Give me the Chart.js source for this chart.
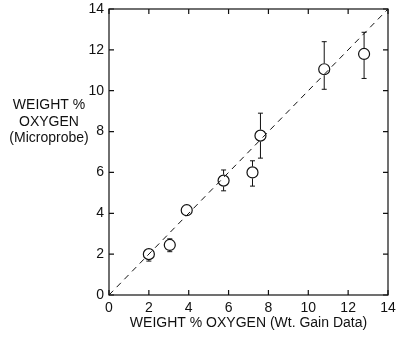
<!DOCTYPE html>
<html>
<head>
<meta charset="utf-8">
<script src="https://cdn.jsdelivr.net/npm/chart.js@4.4.1/dist/chart.umd.min.js"></script>
<style>
  html, body { margin: 0; padding: 0; background: #fff; }
  #wrap { width: 398px; height: 344px; }
</style>
</head>
<body>
<div id="wrap"><canvas id="chart" width="398" height="344"></canvas></div>
<script>
// measured data: wt% oxygen, gain data vs microprobe
const gainX = [2.0, 3.05, 3.9, 5.75, 7.2, 7.6, 10.8, 12.8];
const probeY = [2.0, 2.45, 4.15, 5.6, 6.0, 7.8, 11.05, 11.8];
const errHigh = [2.28, 2.75, 4.35, 6.12, 6.57, 8.9, 12.4, 12.86];
const errLow = [1.66, 2.12, 3.95, 5.1, 5.33, 6.7, 10.07, 10.6];
const tickValues = [0, 2, 4, 6, 8, 10, 12, 14];
const identityLine = [0, 14];

const FONT = "'Liberation Sans Narrow', 'Liberation Sans', sans-serif";

// inward ticks on all four sides, frame, error bars, and y title lines
const decorations = {
  id: 'decorations',
  afterDatasetsDraw(chart) {
    const { ctx, chartArea: a, scales: { x, y } } = chart;
    ctx.save();
    ctx.strokeStyle = '#111';
    ctx.lineWidth = 1.2;
    ctx.strokeRect(a.left, a.top, a.right - a.left, a.bottom - a.top);

    const len = 5;
    ctx.beginPath();
    tickValues.forEach(v => {
      const px = x.getPixelForValue(v);
      const py = y.getPixelForValue(v);
      ctx.moveTo(px, a.bottom); ctx.lineTo(px, a.bottom - len);
      ctx.moveTo(px, a.top); ctx.lineTo(px, a.top + len);
      ctx.moveTo(a.left, py); ctx.lineTo(a.left + len, py);
      ctx.moveTo(a.right, py); ctx.lineTo(a.right - len, py);
    });
    ctx.stroke();

    // error bars (drawn around the circle, not through it)
    ctx.lineWidth = 1;
    gainX.forEach((gx, i) => {
      const px = x.getPixelForValue(gx);
      const pc = y.getPixelForValue(probeY[i]);
      const ph = y.getPixelForValue(errHigh[i]);
      const pl = y.getPixelForValue(errLow[i]);
      const r = 6;
      ctx.beginPath();
      if (pc - ph > r) { ctx.moveTo(px, pc - r); ctx.lineTo(px, ph); ctx.moveTo(px - 2.5, ph); ctx.lineTo(px + 2.5, ph); }
      if (pl - pc > r) { ctx.moveTo(px, pc + r); ctx.lineTo(px, pl); ctx.moveTo(px - 2.5, pl); ctx.lineTo(px + 2.5, pl); }
      ctx.stroke();
    });

    ctx.fillStyle = '#111';
    ctx.font = '14px ' + FONT;
    ctx.textAlign = 'center';
    ctx.textBaseline = 'middle';
    ctx.fillText('WEIGHT %', 49, 105);
    ctx.fillText('OXYGEN', 49, 122);
    ctx.fillText('(Microprobe)', 49, 138);
    ctx.restore();
  }
};

new Chart(document.getElementById('chart'), {
  type: 'scatter',
  data: {
    datasets: [
      {
        type: 'line',
        data: identityLine.map(v => ({ x: v, y: v })),
        borderColor: '#111',
        borderWidth: 1,
        borderDash: [6, 5],
        pointRadius: 0,
        fill: false
      },
      {
        data: gainX.map((v, i) => ({ x: v, y: probeY[i] })),
        pointRadius: 5.5,
        pointBackgroundColor: '#fff',
        pointBorderColor: '#111',
        pointBorderWidth: 1.2
      }
    ]
  },
  options: {
    responsive: false,
    animation: false,
    layout: { padding: { top: 9, right: 10, left: 0, bottom: 12 } },
    plugins: { legend: { display: false }, tooltip: { enabled: false } },
    scales: {
      x: {
        type: 'linear',
        min: 0, max: 14,
        afterBuildTicks: s => { s.ticks = tickValues.map(v => ({ value: v })); },
        grid: { display: false, drawTicks: false },
        border: { display: false },
        ticks: { color: '#111', font: { family: FONT, size: 14 }, padding: 5, maxRotation: 0 },
        title: {
          display: true,
          text: 'WEIGHT % OXYGEN (Wt. Gain Data)',
          color: '#111',
          font: { family: FONT, size: 14 },
          padding: { top: 2, bottom: 0 }
        },
        afterFit: s => { s.height = 37; s.paddingRight = 0; }
      },
      y: {
        type: 'linear',
        min: 0, max: 14,
        afterBuildTicks: s => { s.ticks = tickValues.map(v => ({ value: v })); },
        grid: { display: false, drawTicks: false },
        border: { display: false },
        ticks: { color: '#111', font: { family: FONT, size: 14 }, padding: 5 },
        afterFit: s => { s.width = 109; s.paddingTop = 0; s.paddingBottom = 0; }
      }
    }
  },
  plugins: [decorations]
});
</script>
</body>
</html>
